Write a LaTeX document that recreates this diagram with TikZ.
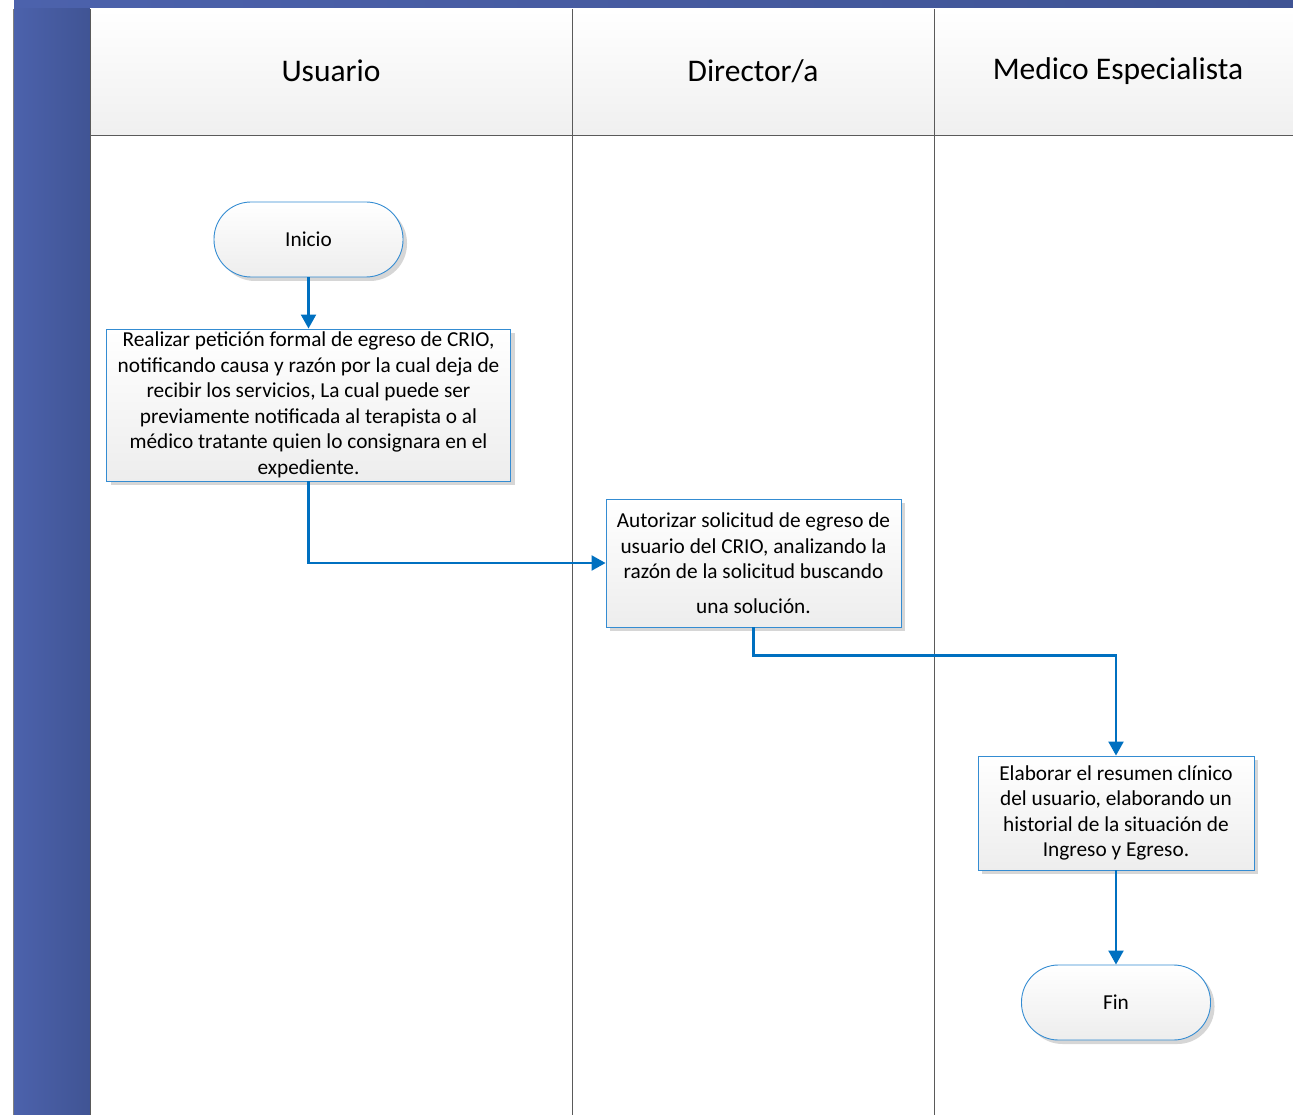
\documentclass[tikz,border=0pt]{standalone}
\usepackage{fontspec}
\setmainfont{Carlito}
\usetikzlibrary{arrows.meta,shadows}

\definecolor{bandblue}{RGB}{76,98,172}
\definecolor{banddark}{RGB}{64,84,148}
\definecolor{flowblue}{RGB}{0,112,192}
\definecolor{boxline}{RGB}{52,140,210}
\definecolor{laneline}{RGB}{90,90,90}

\begin{document}
\begin{tikzpicture}[x=1pt,y=-1pt]

\def\lanetop{9}
\def\headbot{135}

\tikzstyle{lane} = [draw=laneline,line width=0.9pt];
\tikzstyle{head} = [anchor=center,font=\fontsize{31.5}{36}\selectfont];
\tikzstyle{pnode} = [rectangle,draw=boxline,line width=0.9pt,top color=white,bottom color=black!7,drop shadow={shadow xshift=4pt,shadow yshift=-4pt,fill=black!16,opacity=1},align=center,inner sep=2pt,font=\fontsize{21.3}{25.5}\selectfont];
\tikzstyle{tnode} = [pnode,rounded corners=37pt,minimum width=189pt,minimum height=75pt];
\tikzstyle{flow} = [draw=flowblue,line width=2.2pt,-{Triangle[width=15pt,length=14pt]}];

\useasboundingbox (0,0) rectangle (1293,1115);

% pool frame
\fill [left color=bandblue,right color=banddark] (14,0) rectangle (1293,\lanetop);
\fill [left color=bandblue,right color=banddark] (14,\lanetop) rectangle (90,1115);
\draw [draw=gray,line width=1pt] (13.5,\lanetop) -- (13.5,1115);
\shade [top color=white,bottom color=black!6] (90,\lanetop) rectangle (1293,\headbot);
\draw [lane] (90,\lanetop) -- (90,1115);
\draw [lane] (90,\headbot) -- (1293,\headbot);
\draw [lane] (572,\lanetop) -- (572,1115);
\draw [lane] (934,\lanetop) -- (934,1115);

\node [head] (usuario) at (331,71) {Usuario};
\node [head] (director) at (753,71) {Director/a};
\node [head] (medico) at (1118,71) {Medico Especialista};

\node [tnode] (inicio) at (308.5,239.5) {Inicio};

\node [pnode,minimum width=404pt,minimum height=152pt] (peticion) at (308.5,405) {Realizar petición formal de egreso de CRIO,\\notificando causa y razón por la cual deja de\\recibir los servicios, La cual puede ser\\previamente notificada al terapista o al\\médico tratante quien lo consignara en el\\expediente.};

\node [pnode,minimum width=295pt,minimum height=128pt] (autorizar) at (753.5,563) {Autorizar solicitud de egreso de\\usuario del CRIO, analizando la\\razón de la solicitud buscando\\[9pt]una solución.};

\node [pnode,minimum width=276pt,minimum height=114pt] (resumen) at (1116,813) {Elaborar el resumen clínico\\del usuario, elaborando un\\historial de la situación de\\Ingreso y Egreso.};

\node [tnode] (fin) at (1116,1002.5) {Fin};

\draw [flow] (inicio.south) -- (peticion.north);
\draw [flow] (peticion.south) |- (autorizar.west);
\draw [flow] (autorizar.south) -- ++(0,28) -| (resumen.north);
\draw [flow] (resumen.south) -- (fin.north);

\end{tikzpicture}
\end{document}
